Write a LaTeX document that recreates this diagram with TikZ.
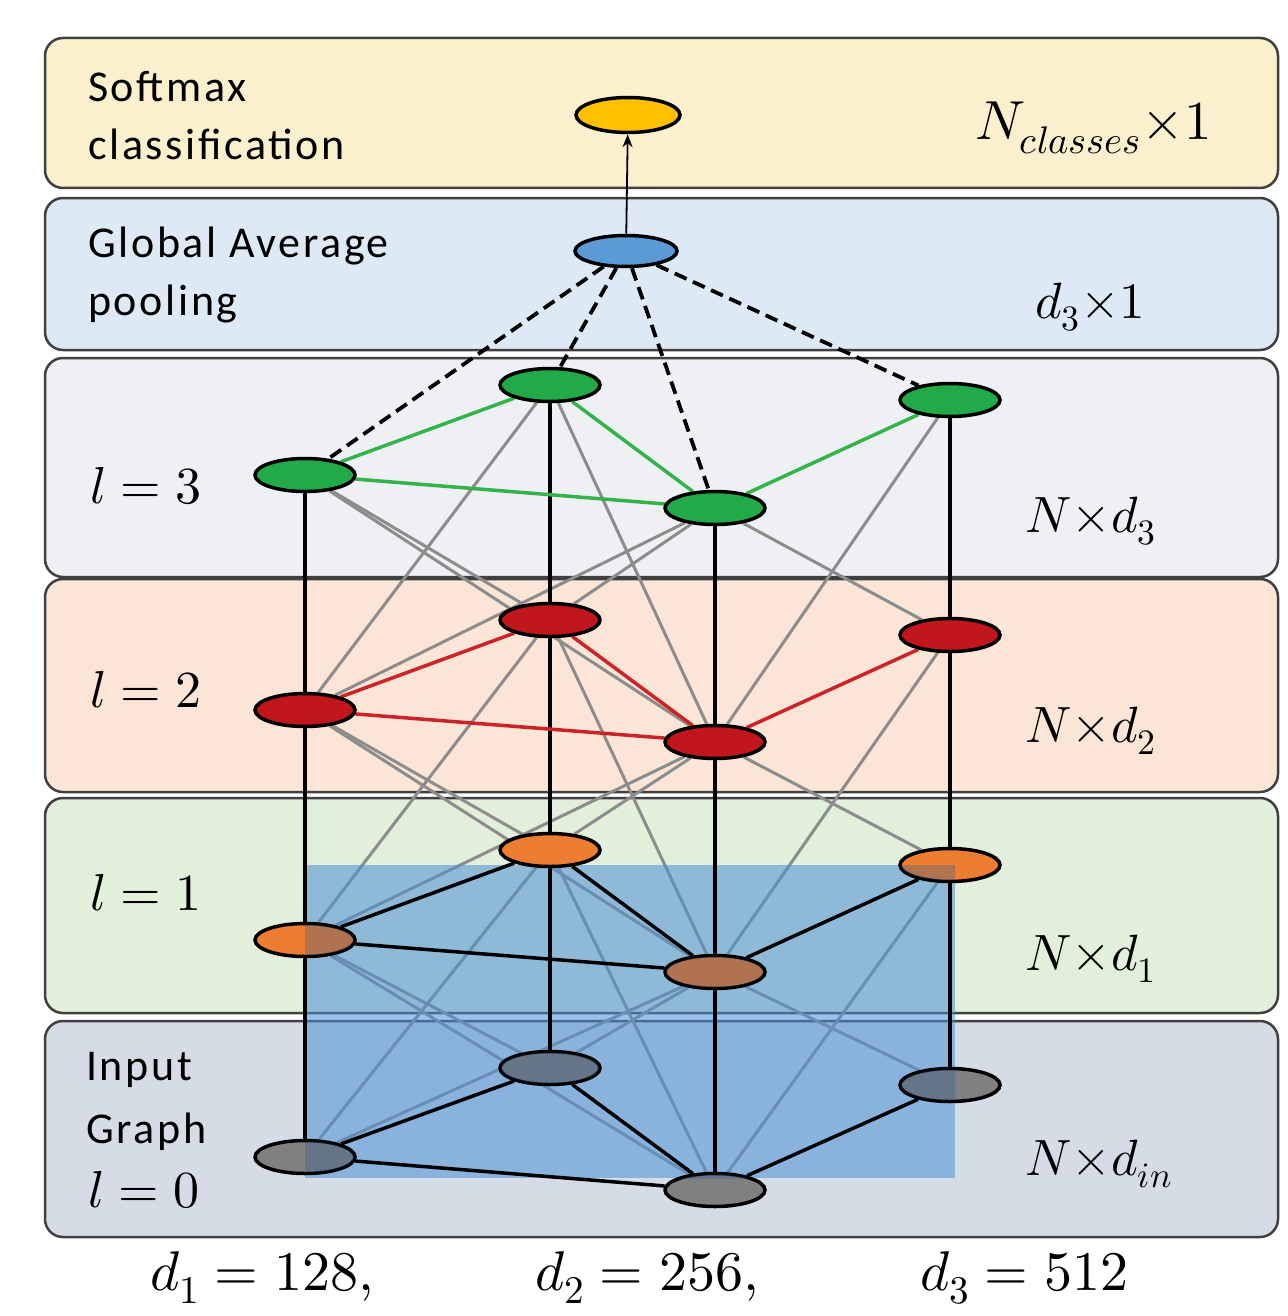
\documentclass[tikz,border=0pt]{standalone}
\usepackage{fontspec}
\usepackage{unicode-math}
\setmainfont{Carlito}
\setmathfont{Latin Modern Math}
\newfontfamily\labelfont[LetterSpace=6]{Carlito}
\usetikzlibrary{shapes.geometric,arrows.meta}
\pgfdeclarelayer{bg}
\pgfdeclarelayer{grayl}
\pgfdeclarelayer{rectl}
\pgfdeclarelayer{blackl}
\pgfdeclarelayer{topl}
\pgfsetlayers{bg,grayl,rectl,blackl,main,topl}
\definecolor{bandY}{RGB}{251,240,205}
\definecolor{bandB}{RGB}{221,234,246}
\definecolor{bandG}{RGB}{238,240,243}
\definecolor{bandR}{RGB}{251,229,214}
\definecolor{bandL}{RGB}{226,239,218}
\definecolor{bandI}{RGB}{214,220,229}
\definecolor{bandline}{RGB}{64,64,64}
\definecolor{nYel}{RGB}{255,192,0}
\definecolor{nBlue}{RGB}{91,155,213}
\definecolor{nGreen}{RGB}{34,170,72}
\definecolor{nRed}{RGB}{192,22,28}
\definecolor{nOrange}{RGB}{237,125,49}
\definecolor{nGrey}{RGB}{128,128,128}
\definecolor{eGray}{RGB}{140,140,140}
\definecolor{eGreen}{RGB}{50,180,75}
\definecolor{eRed}{RGB}{205,35,40}
\definecolor{rectBlue}{RGB}{74,144,214}
\definecolor{shadeBlue}{RGB}{40,90,150}
\begin{document}
\begin{tikzpicture}[x=1pt,y=-1pt,
  band/.style={draw=bandline, line width=2.5pt, rounded corners=18pt},
  gnode/.style={ellipse, draw=black, line width=3.5pt, minimum width=100pt, minimum height=33pt, inner sep=0pt},
  grayedge/.style={draw=eGray, line width=3pt},
  vline/.style={draw=black, line width=3.2pt},
  dashedge/.style={draw=black, line width=3.8pt, dash pattern=on 13pt off 7pt},
  sanslabel/.style={anchor=base west, inner sep=0pt, font=\labelfont\fontsize{44}{50}\selectfont},
  leftmath/.style={anchor=base west, inner sep=0pt, font=\fontsize{52}{60}\selectfont},
  rightmath/.style={anchor=base west, inner sep=0pt, font=\fontsize{51}{60}\selectfont},
  bottommath/.style={anchor=base west, inner sep=0pt, font=\fontsize{56}{66}\selectfont},
  nodeshade/.style={fill=shadeBlue, opacity=0.3}
]
\useasboundingbox (0,0) rectangle (1287,1316);

\begin{pgfonlayer}{bg}
\fill[white] (0,0) rectangle (1287,1316);
\draw[band, fill=bandY] (45,38) rectangle (1278,188);
\draw[band, fill=bandB] (45,198) rectangle (1278,350);
\draw[band, fill=bandG] (45,358) rectangle (1278,577);
\draw[band, fill=bandR] (45,579) rectangle (1278,792);
\draw[band, fill=bandL] (45,798) rectangle (1278,1013);
\draw[band, fill=bandI] (45,1021) rectangle (1278,1237);
\end{pgfonlayer}

% nodes
\node[gnode, fill=nYel, minimum width=104pt, minimum height=35pt] (soft) at (628,115) {};
\node[gnode, fill=nBlue, minimum width=102pt, minimum height=31pt] (gap) at (626,251) {};
\foreach \l/\ya/\yb/\yc/\yd/\col in {3/475/385/508/400/nGreen, 2/710/620/742/635/nRed, 1/940/850/972/865/nOrange, 0/1157/1068/1190/1085/nGrey}{
  \node[gnode, fill=\col] (A\l) at (305,\ya) {};
  \node[gnode, fill=\col] (B\l) at (550,\yb) {};
  \node[gnode, fill=\col] (C\l) at (715,\yc) {};
  \node[gnode, fill=\col] (D\l) at (950,\yd) {};
}

% gray inter-layer edges
\begin{pgfonlayer}{grayl}
\foreach \l/\m in {3/2,2/1,1/0}{
  \foreach \u/\v in {A/B,A/C,B/C,C/D}{
    \draw[grayedge] (\u\l) -- (\v\m);
    \draw[grayedge] (\v\l) -- (\u\m);
  }
}
\end{pgfonlayer}

% translucent blue rectangle
\begin{pgfonlayer}{rectl}
\fill[rectBlue, opacity=0.55] (305,865) rectangle (955,1178);
\end{pgfonlayer}

% black verticals, intra-layer edges, dashed lines, arrow
\begin{pgfonlayer}{blackl}
\foreach \c in {A,B,C,D}{
  \draw[vline] (\c3) -- (\c2);
  \draw[vline] (\c2) -- (\c1);
  \draw[vline] (\c1) -- (\c0);
}
\foreach \l/\col/\w in {3/eGreen/3.5pt, 2/eRed/3.5pt, 1/black/3.5pt, 0/black/3.5pt}{
  \draw[draw=\col, line width=\w] (A\l) -- (B\l);
  \draw[draw=\col, line width=\w] (A\l) -- (C\l);
  \draw[draw=\col, line width=\w] (B\l) -- (C\l);
  \draw[draw=\col, line width=\w] (C\l) -- (D\l);
}
\foreach \c in {A,B,C,D}{
  \draw[dashedge] (gap) -- (\c3);
}
\draw[line width=1.8pt, -{Stealth[length=13pt,width=10pt]}] (gap) -- (soft);
\end{pgfonlayer}

% tint of the nodes under the rectangle
\begin{pgfonlayer}{topl}
\begin{scope}
\clip (305,865) rectangle (955,1178);
\foreach \n in {A1,B1,C1,D1,A0,B0,C0,D0}{
  \fill[nodeshade] (\n.center) ellipse [x radius=49pt, y radius=15.5pt];
}
\end{scope}
\end{pgfonlayer}

% texts
\node[sanslabel] (t1a) at (88,102) {Softmax};
\node[sanslabel] (t1b) at (88,160) {classification};
\node[sanslabel] (t2a) at (88,257) {Global Average};
\node[sanslabel] (t2b) at (88,315) {pooling};
\node[leftmath] (t3) at (90,503) {$l=3$};
\node[leftmath] (t4) at (90,707) {$l=2$};
\node[leftmath] (t5) at (90,910) {$l=1$};
\node[sanslabel] (t6a) at (86,1080) {Input};
\node[sanslabel] (t6b) at (86,1143) {Graph};
\node[leftmath] (t6c) at (88,1207) {$l=0$};

\node[rightmath, font=\fontsize{55}{60}\selectfont] (r1) at (975,140) {$N_{classes}{\times}1$};
\node[rightmath] (r2) at (1035,318) {$d_3{\times}1$};
\node[rightmath] (r3) at (1025,532) {$N{\times}d_3$};
\node[rightmath] (r4) at (1025,742) {$N{\times}d_2$};
\node[rightmath] (r5) at (1025,970) {$N{\times}d_1$};
\node[rightmath] (r6) at (1025,1175) {$N{\times}d_{in}$};

\node[bottommath] (b1) at (150,1290) {$d_1=128,$};
\node[bottommath] (b2) at (535,1290) {$d_2=256,$};
\node[bottommath] (b3) at (920,1290) {$d_3=512$};
\end{tikzpicture}
\end{document}
